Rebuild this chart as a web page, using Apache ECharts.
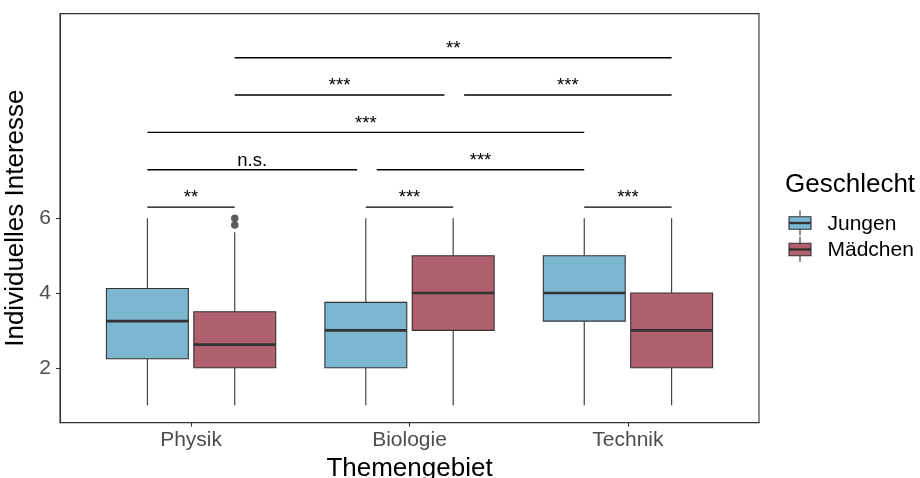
<!DOCTYPE html>
<html><head><meta charset="utf-8">
<script src="https://cdn.jsdelivr.net/npm/echarts@6/dist/echarts.min.js"></script>
<style>html,body{margin:0;padding:0;background:#fff}#c{width:920px;height:478px}</style>
</head><body><div id="c"></div>
<script>
const categories = ['Physik', 'Biologie', 'Technik'];
const groups = ['Jungen', 'Mädchen'];
// box statistics per category: [min, Q1, median, Q3, max]
const jungen = [[1, 2.24, 3.25, 4.12, 6], [1, 2, 3, 3.75, 6], [1, 3.25, 4, 5, 6]];
const maedchen = [[1, 2, 2.62, 3.5, 5.625], [1, 3, 4, 5, 6], [1, 2, 3, 4, 6]];
const maedchenOutlierCat = [0, 0];
const maedchenOutlierVal = [6, 5.82];
// significance brackets (positions in category units, group offset included)
const bracketFrom = [0.2, 0.2, 1.25, -0.2, -0.2, 0.85, -0.2, 0.8, 1.8];
const bracketTo = [2.2, 1.16, 2.2, 1.8, 0.76, 1.8, 0.2, 1.2, 2.2];
const bracketY = [10.3, 9.3, 9.3, 8.3, 7.3, 7.3, 6.3, 6.3, 6.3];
const bracketLabel = ['**', '***', '***', '***', 'n.s.', '***', '**', '***', '***'];
const yTicks = [2, 4, 6];

const FONT = '"Liberation Sans", Arial, Helvetica, sans-serif';
const COLORS = ['#7DB6D1', '#B0606E'];
const DODGE = 0.2, BOXW = 0.375;
const INK = '#333333';

function boxRender(offset) {
  return function (params, api) {
    const c = api.value(0) + offset;
    const p = [1, 2, 3, 4, 5].map(i => api.coord([c, api.value(i)]));
    const x = p[0][0];
    const half = api.size([BOXW, 0])[0] / 2;
    const st = { stroke: INK, lineWidth: 1.1 };
    return {
      type: 'group', children: [
        { type: 'line', shape: { x1: x, y1: p[0][1], x2: x, y2: p[1][1] }, style: st },
        { type: 'line', shape: { x1: x, y1: p[3][1], x2: x, y2: p[4][1] }, style: st },
        { type: 'rect', shape: { x: x - half, y: p[3][1], width: 2 * half, height: p[1][1] - p[3][1] },
          style: { fill: api.visual('color'), stroke: INK, lineWidth: 1.1 } },
        { type: 'line', shape: { x1: x - half, y1: p[2][1], x2: x + half, y2: p[2][1] },
          style: { stroke: INK, lineWidth: 2.6 } }
      ]
    };
  };
}

function bracketRender(params, api) {
  const a = api.coord([api.value(0), api.value(2)]);
  const b = api.coord([api.value(1), api.value(2)]);
  return {
    type: 'group', children: [
      { type: 'line', shape: { x1: a[0], y1: a[1], x2: b[0], y2: b[1] }, style: { stroke: '#000', lineWidth: 1.4 } },
      { type: 'text', x: (a[0] + b[0]) / 2, y: a[1] - 9,
        style: { text: bracketLabel[params.dataIndex], font: '18.5px ' + FONT, fill: '#000', align: 'center', verticalAlign: 'middle' } }
    ]
  };
}

const chart = echarts.init(document.getElementById('c'), null, { renderer: 'canvas' });

const legendGraphics = [
  { type: 'text', x: 785, y: 185, style: { text: 'Geschlecht', font: '26px ' + FONT, fill: '#000', verticalAlign: 'middle' } }
];
groups.forEach((g, i) => {
  const cy = 223 + i * 26.5;
  legendGraphics.push(
    { type: 'line', shape: { x1: 800, y1: cy - 12.5, x2: 800, y2: cy + 12.5 }, style: { stroke: INK, lineWidth: 1.1 } },
    { type: 'rect', shape: { x: 789, y: cy - 6.3, width: 22, height: 12.6 }, style: { fill: COLORS[i], stroke: INK, lineWidth: 1.1 } },
    { type: 'line', shape: { x1: 789, y1: cy, x2: 811, y2: cy }, style: { stroke: INK, lineWidth: 2.4 } },
    { type: 'text', x: 827.5, y: cy + 1, style: { text: g, font: '21px ' + FONT, fill: '#000', verticalAlign: 'middle' } }
  );
});

const option = {
  animation: false,
  backgroundColor: '#fff',
  grid: { left: 60, top: 13.6, width: 699, height: 409.1, show: true, borderColor: INK, borderWidth: 1.1,
    backgroundColor: 'transparent', containLabel: false, outerBoundsMode: 'none' },
  xAxis: {
    type: 'value', min: -0.6, max: 2.6,
    axisLine: { show: true, onZero: false, lineStyle: { color: INK, width: 1.1 } },
    axisTick: { show: true, length: 4, customValues: categories.map((_, i) => i), lineStyle: { color: INK, width: 1.1 } },
    axisLabel: { customValues: categories.map((_, i) => i), formatter: v => categories[Math.round(v)],
      color: '#4D4D4D', fontSize: 21, fontFamily: FONT, margin: 7 },
    splitLine: { show: false },
    name: 'Themengebiet', nameLocation: 'middle', nameGap: 31,
    nameTextStyle: { fontSize: 26, color: '#000', fontFamily: FONT }
  },
  yAxis: {
    type: 'value', min: 0.53, max: 11.48,
    axisLine: { show: true, onZero: false, lineStyle: { color: INK, width: 1.1 } },
    axisTick: { show: true, length: 4, customValues: yTicks, lineStyle: { color: INK, width: 1.1 } },
    axisLabel: { customValues: yTicks, color: '#4D4D4D', fontSize: 21, fontFamily: FONT, margin: 9 },
    splitLine: { show: false },
    name: 'Individuelles Interesse', nameLocation: 'middle', nameGap: 23,
    nameTextStyle: { fontSize: 26, color: '#000', fontFamily: FONT }
  },
  series: [
    { type: 'custom', name: groups[0], itemStyle: { color: COLORS[0] }, renderItem: boxRender(-DODGE),
      encode: { x: 0, y: [1, 2, 3, 4, 5] }, data: jungen.map((d, i) => [i, ...d]), z: 2 },
    { type: 'custom', name: groups[1], itemStyle: { color: COLORS[1] }, renderItem: boxRender(DODGE),
      encode: { x: 0, y: [1, 2, 3, 4, 5] }, data: maedchen.map((d, i) => [i, ...d]), z: 2 },
    { type: 'scatter', name: groups[1] + ' Ausreißer', symbol: 'circle', symbolSize: 7.5,
      itemStyle: { color: INK }, data: maedchenOutlierCat.map((c, i) => [c + DODGE, maedchenOutlierVal[i]]), z: 3 },
    { type: 'custom', name: 'Signifikanz', renderItem: bracketRender, encode: { x: [0, 1], y: 2 },
      data: bracketFrom.map((f, i) => [f, bracketTo[i], bracketY[i]]), z: 4 }
  ],
  graphic: legendGraphics
};
chart.setOption(option);
</script>
</body></html>
